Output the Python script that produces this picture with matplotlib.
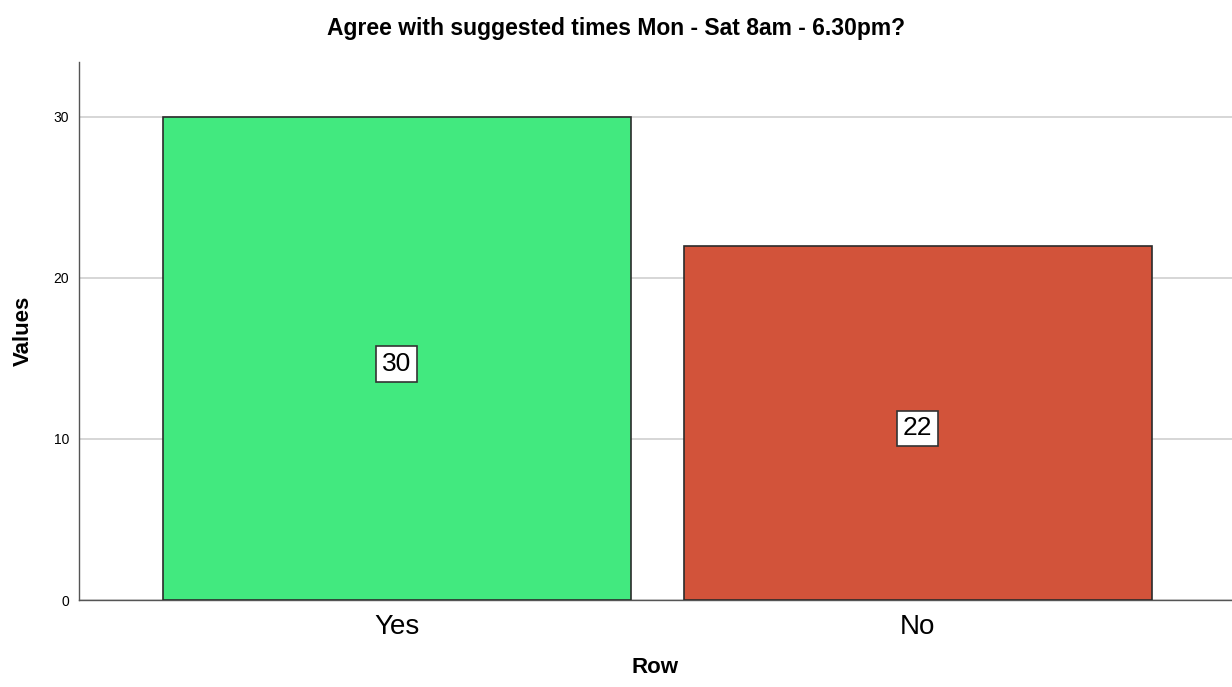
import matplotlib.pyplot as plt

categories = ['Yes', 'No']
values = [30, 22]
colors = ['#42E97F', '#D2533A']

plt.rcParams['font.family'] = ['Liberation Sans', 'DejaVu Sans']

fig = plt.figure(figsize=(12.32, 6.87), dpi=100)
ax = fig.add_axes([0.0641, 0.1266, 0.9359, 0.7832])

x = list(range(len(categories)))
bars = ax.bar(x, values, width=0.898, color=colors, edgecolor='#2b2b2b', linewidth=1.2, zorder=3)

for xi, v in zip(x, values):
    ax.text(xi, v / 2 - 0.35, str(v), ha='center', va='center', fontsize=19, zorder=4,
            bbox=dict(facecolor='white', edgecolor='#333333', boxstyle='square,pad=0.22', linewidth=1.2))

ax.set_xlim(-0.61, 1.603)
ax.set_ylim(0, 33.4)
ax.set_yticks([0, 10, 20, 30])
ax.set_xticks(x)
ax.set_xticklabels(categories, fontsize=20)
ax.tick_params(axis='both', length=0)
ax.tick_params(axis='y', labelsize=10, pad=7)
ax.tick_params(axis='x', pad=10)
ax.yaxis.grid(True, color='#cfcfcf', linewidth=1.2, zorder=0)
ax.set_axisbelow(True)

for side in ['top', 'right']:
    ax.spines[side].set_visible(False)
for side in ['left', 'bottom']:
    ax.spines[side].set_color('#555555')
    ax.spines[side].set_linewidth(1.0)

ax.set_xlabel('Row', fontsize=16, fontweight='bold', labelpad=12)
ax.set_ylabel('Values', fontsize=16, fontweight='bold', labelpad=14)
fig.suptitle('Agree with suggested times Mon - Sat 8am - 6.30pm?', fontsize=16.5, fontweight='bold', y=0.975)

fig.savefig('out.png', dpi=100)
